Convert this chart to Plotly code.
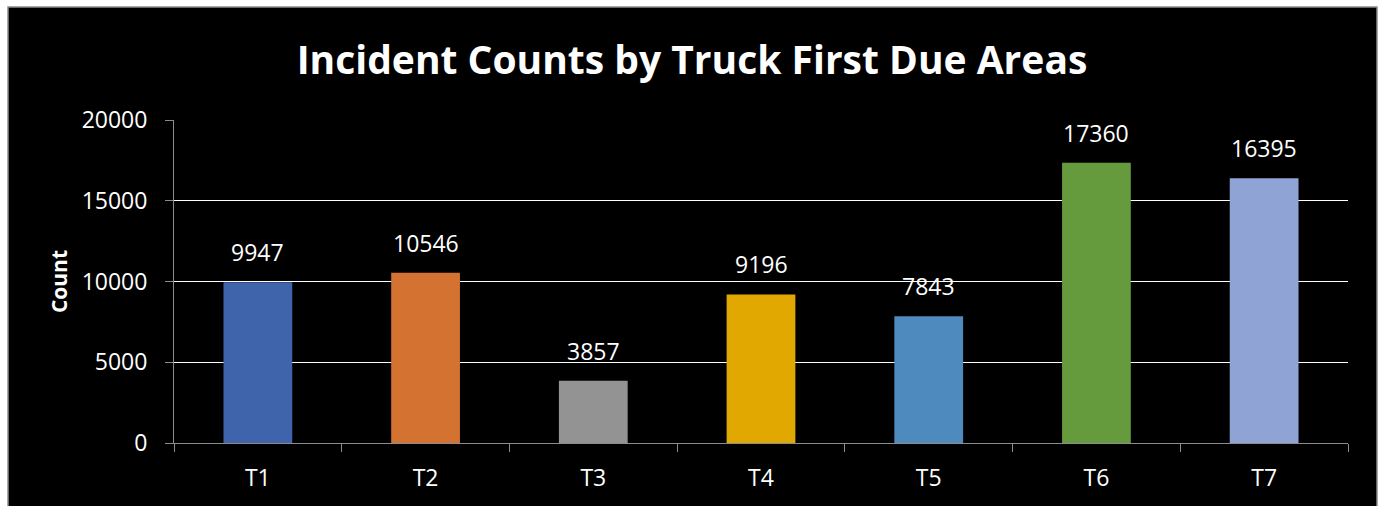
import plotly.graph_objects as go

# Incident counts per truck first-due area
areas = ["T1", "T2", "T3", "T4", "T5", "T6", "T7"]
counts = [9947, 10546, 3857, 9196, 7843, 17360, 16395]
bar_colors = ["#3F64AC", "#D37231", "#939393", "#E0A800", "#4F8ABF", "#659B3C", "#8FA3D5"]
y_ticks = [0, 5000, 10000, 15000, 20000]

W, H = 1385, 506
ML, MR, MT, MB = 174, 37, 120, 63
PW, PH = W - ML - MR, H - MT - MB

FONT = "Open Sans"
TICK_SIZE = 23

fig = go.Figure(
    go.Bar(
        x=areas,
        y=counts,
        marker=dict(color=bar_colors, line=dict(width=0)),
        width=0.41,
        hoverinfo="x+y",
    )
)

# value labels above each bar
for a, c in zip(areas, counts):
    fig.add_annotation(
        x=a, y=c, text=str(c), showarrow=False,
        yanchor="bottom", yshift=12,
        font=dict(family=FONT, size=TICK_SIZE, color="white"),
    )

# black chart panel with thin gray frame (pixel positions converted to paper units)
def px_x(p):
    return (p - ML) / PW

def px_y(p):
    return (H - MB - p) / PH

fig.add_shape(
    type="rect", xref="paper", yref="paper", layer="below",
    x0=px_x(8), x1=px_x(1377), y0=px_y(515), y1=px_y(7),
    fillcolor="black", line=dict(color="#8C8C8C", width=1.5),
)

fig.update_layout(
    width=W, height=H,
    margin=dict(l=ML, r=MR, t=MT, b=MB, pad=0),
    paper_bgcolor="white",
    plot_bgcolor="black",
    showlegend=False,
    title=dict(
        text="<b>Incident Counts by Truck First Due Areas</b>",
        x=692 / W, xanchor="center", xref="container",
        y=1 - 60 / H, yanchor="middle",
        font=dict(family=FONT, size=39, color="white"),
    ),
    font=dict(family=FONT, color="white"),
    xaxis=dict(
        type="category",
        tickson="boundaries",
        ticks="outside", ticklen=8, tickcolor="#8C8C8C", tickwidth=1,
        showline=True, linecolor="#8C8C8C", linewidth=1,
        showgrid=False, zeroline=False,
        ticklabelstandoff=14,
        tickfont=dict(family=FONT, size=TICK_SIZE, color="white"),
    ),
    yaxis=dict(
        range=[0, 20000],
        tickvals=y_ticks,
        ticktext=[str(v) for v in y_ticks],
        ticks="outside", ticklen=8, tickcolor="#8C8C8C", tickwidth=1,
        showline=True, linecolor="#8C8C8C", linewidth=1,
        showgrid=True, gridcolor="white", gridwidth=1,
        zeroline=False,
        ticklabelstandoff=13,
        tickfont=dict(family=FONT, size=TICK_SIZE, color="white"),
        title=dict(
            text="<b>Count</b>", standoff=8,
            font=dict(family=FONT, size=21, color="white"),
        ),
    ),
)

fig.write_html("out.html")
